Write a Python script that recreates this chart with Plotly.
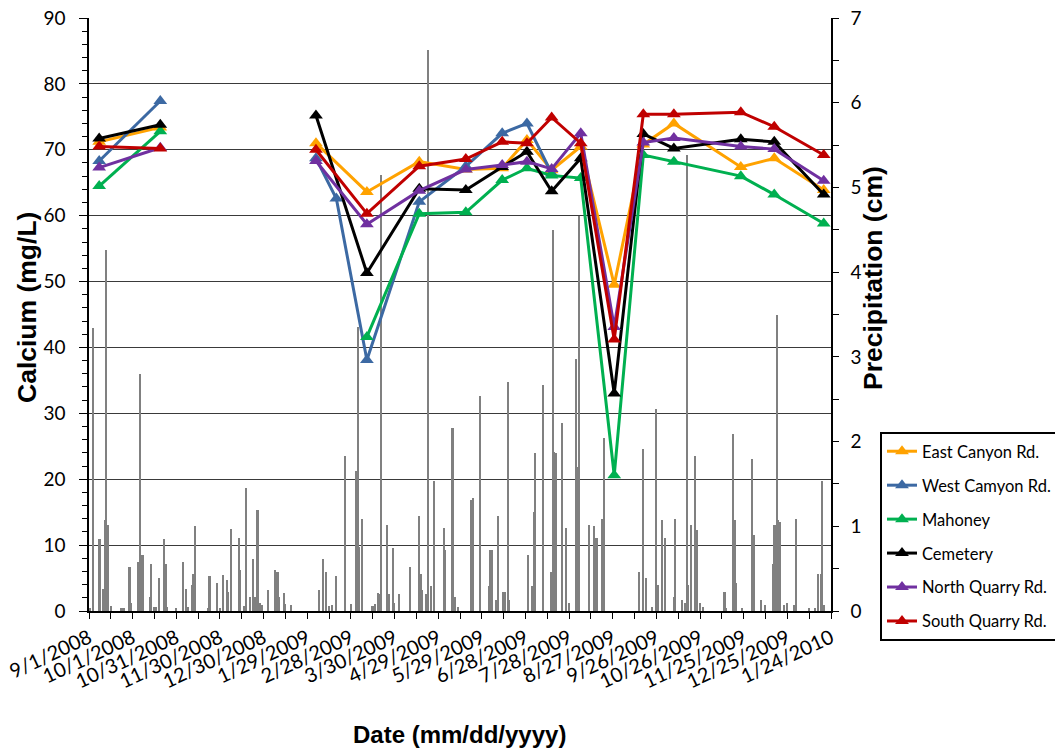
import pandas as pd
import plotly.graph_objects as go

# ---- Calcium sampling (mg/L) ----
sample_dates = [
    "2008-09-08", "2008-10-20", "2009-02-04", "2009-03-11", "2009-04-16",
    "2009-05-18", "2009-06-12", "2009-06-29", "2009-07-16", "2009-08-05",
    "2009-08-28", "2009-09-17", "2009-10-08", "2009-11-23", "2009-12-16",
    "2010-01-19",
]
east_canyon = [71.2, 73.4, 71.0, 63.6, 68.2, 67.0, 67.2, 71.5, 66.9, 70.5,
               49.5, 70.8, 74.0, 67.4, 68.7, 63.9]
west_canyon = [68.3, 77.4, 68.7, 38.1, 62.1, 67.5, 72.5, 74.0, 66.4, None,
               None, None, None, None, None, None]
west_canyon_extra_date = "2009-02-18"
west_canyon_extra_value = 62.6
mahoney = [64.5, 72.8, None, 41.6, 60.3, 60.5, 65.4, 67.2, 66.1, 65.7,
           20.6, 69.2, 68.2, 66.0, 63.2, 58.8]
cemetery = [71.7, 73.8, 75.2, 51.3, 64.1, 63.9, 67.4, 69.7, 63.7, 68.7,
            33.0, 72.4, 70.2, 71.6, 71.2, 63.2]
north_quarry = [67.3, 70.3, 68.3, 58.7, 63.8, 67.0, 67.7, 68.2, 67.1, 72.5,
                43.1, 71.1, 71.8, 70.5, 70.1, 65.3]
south_quarry = [70.5, 70.2, 70.0, 60.3, 67.5, 68.6, 71.2, 71.0, 74.9, 71.0,
                41.2, 75.4, 75.4, 75.7, 73.5, 69.2]

# ---- Daily precipitation (cm) ----
precip_dates = [
    "2008-09-02", "2008-09-04", "2008-09-08", "2008-09-09", "2008-09-11",
    "2008-09-12", "2008-09-13", "2008-09-14", "2008-09-16", "2008-09-23",
    "2008-09-24", "2008-09-25", "2008-09-29", "2008-09-30", "2008-10-05",
    "2008-10-06", "2008-10-07", "2008-10-08", "2008-10-13", "2008-10-14",
    "2008-10-16", "2008-10-17", "2008-10-19", "2008-10-23", "2008-10-24",
    "2008-10-25", "2008-10-31", "2008-11-05", "2008-11-07", "2008-11-08",
    "2008-11-11", "2008-11-12", "2008-11-13", "2008-11-22", "2008-11-23",
    "2008-11-28", "2008-11-30", "2008-12-02", "2008-12-05", "2008-12-06",
    "2008-12-08", "2008-12-13", "2008-12-14", "2008-12-17", "2008-12-18",
    "2008-12-21", "2008-12-23", "2008-12-24", "2008-12-26", "2008-12-28",
    "2008-12-29", "2009-01-02", "2009-01-07", "2009-01-08", "2009-01-09",
    "2009-01-10", "2009-01-13", "2009-01-14", "2009-01-18", "2009-02-06",
    "2009-02-09", "2009-02-11", "2009-02-13", "2009-02-15", "2009-02-18",
    "2009-02-24", "2009-02-28", "2009-03-04", "2009-03-05", "2009-03-06",
    "2009-03-08", "2009-03-15", "2009-03-17", "2009-03-19", "2009-03-20",
    "2009-03-21", "2009-03-25", "2009-03-26", "2009-03-29", "2009-03-30",
    "2009-04-02", "2009-04-10", "2009-04-16", "2009-04-17", "2009-04-18",
    "2009-04-21", "2009-04-22", "2009-04-24", "2009-04-26", "2009-05-03",
    "2009-05-04", "2009-05-09", "2009-05-11", "2009-05-13", "2009-05-22",
    "2009-05-23", "2009-05-28", "2009-06-03", "2009-06-04", "2009-06-05",
    "2009-06-08", "2009-06-09", "2009-06-13", "2009-06-14", "2009-06-16",
    "2009-06-17", "2009-06-30", "2009-07-03", "2009-07-04", "2009-07-05",
    "2009-07-10", "2009-07-16", "2009-07-17", "2009-07-18", "2009-07-19",
    "2009-07-23", "2009-07-26", "2009-07-28", "2009-08-02", "2009-08-03",
    "2009-08-04", "2009-08-11", "2009-08-14", "2009-08-16", "2009-08-20",
    "2009-08-21", "2009-09-14", "2009-09-17", "2009-09-19", "2009-09-23",
    "2009-09-26", "2009-09-27", "2009-09-30", "2009-10-02", "2009-10-08",
    "2009-10-09", "2009-10-14", "2009-10-16", "2009-10-17", "2009-10-18",
    "2009-10-20", "2009-10-23", "2009-10-24", "2009-10-26", "2009-10-28",
    "2009-11-12", "2009-11-13", "2009-11-18", "2009-11-19", "2009-11-20",
    "2009-11-24", "2009-12-01", "2009-12-02", "2009-12-07", "2009-12-10",
    "2009-12-15", "2009-12-16", "2009-12-17", "2009-12-18", "2009-12-19",
    "2009-12-20", "2009-12-23", "2009-12-25", "2009-12-30", "2009-12-31",
    "2010-01-09", "2010-01-13", "2010-01-15", "2010-01-17", "2010-01-18",
    "2010-01-19",
]
precip_cm = [
    0.03, 3.34, 0.85, 0.85, 0.26,
    1.07, 4.26, 1.02, 0.06, 0.03,
    0.04, 0.03, 0.52, 0.09, 0.58,
    2.80, 0.66, 0.66, 0.16, 0.56,
    0.05, 0.05, 0.39, 0.85, 0.56,
    0.05, 0.03, 0.58, 0.26, 0.05,
    0.31, 0.44, 1.00, 0.03, 0.41,
    0.33, 0.04, 0.42, 0.37, 0.22,
    0.97, 0.86, 0.48, 0.06, 1.45,
    0.16, 0.61, 0.16, 1.19, 0.09,
    0.07, 0.25, 0.48, 0.46, 0.46,
    0.16, 0.21, 0.08, 0.07, 0.25,
    0.61, 0.46, 0.06, 0.07, 0.41,
    1.83, 0.08, 1.65, 3.35, 0.76,
    1.09, 0.06, 0.08, 0.21, 0.20,
    5.15, 1.02, 0.20, 0.74, 0.10,
    0.20, 0.52, 1.12, 0.44, 0.25,
    0.20, 6.62, 0.29, 1.53, 0.98,
    0.72, 2.16, 0.17, 0.05, 1.31,
    1.33, 2.54, 0.29, 0.72, 0.72,
    0.13, 1.12, 0.23, 0.23, 2.70,
    0.13, 0.66, 0.29, 1.17, 1.86,
    2.67, 0.46, 4.50, 1.88, 1.86,
    2.22, 0.98, 0.09, 2.97, 1.70,
    4.66, 1.02, 1.00, 0.86, 1.09,
    2.04, 0.46, 1.91, 0.39, 0.05,
    2.39, 0.31, 1.07, 0.86, 0.17,
    1.09, 0.13, 0.09, 5.38, 0.31,
    1.02, 1.83, 0.96, 0.09, 0.05,
    0.23, 0.03, 2.09, 1.07, 0.33,
    0.03, 1.79, 0.90, 0.13, 0.07,
    0.56, 1.02, 1.02, 3.50, 1.07,
    1.05, 0.07, 0.09, 0.07, 1.09,
    0.03, 0.03, 0.44, 0.44, 1.53,
    0.07,
]

# ---- Date axis labels ----
tick_dates = [
    "2008-09-01", "2008-10-01", "2008-10-31", "2008-11-30", "2008-12-30",
    "2009-01-29", "2009-02-28", "2009-03-30", "2009-04-29", "2009-05-29",
    "2009-06-28", "2009-07-28", "2009-08-27", "2009-09-26", "2009-10-26",
    "2009-11-25", "2009-12-25", "2010-01-24",
]
tick_labels = [
    "9/1/2008", "10/1/2008", "10/31/2008", "11/30/2008", "12/30/2008",
    "1/29/2009", "2/28/2009", "3/30/2009", "4/29/2009", "5/29/2009",
    "6/28/2009", "7/28/2009", "8/27/2009", "9/26/2009", "10/26/2009",
    "11/25/2009", "12/25/2009", "1/24/2010",
]

series = [
    ("East Canyon Rd.", east_canyon, "#FFA200"),
    ("West Camyon Rd.", west_canyon, "#3C69A3"),
    ("Mahoney", mahoney, "#00B050"),
    ("Cemetery", cemetery, "#000000"),
    ("North Quarry Rd.", north_quarry, "#7030A0"),
    ("South Quarry Rd.", south_quarry, "#C00000"),
]


def build_line(dates, values, extra=None, max_gap_days=60):
    """Pair dates with values, drop missing samples and break the line
    across long gaps in the sampling record."""
    pts = [(pd.Timestamp(d), v) for d, v in zip(dates, values) if v is not None]
    if extra is not None:
        pts.append((pd.Timestamp(extra[0]), extra[1]))
    pts.sort(key=lambda p: p[0])
    xs, ys = [], []
    prev = None
    for d, v in pts:
        if prev is not None and (d - prev).days > max_gap_days:
            xs.append(None)
            ys.append(None)
        xs.append(d)
        ys.append(v)
        prev = d
    return xs, ys


TICK_FONT = dict(family="Lato, Open Sans, sans-serif", size=19, color="#000000")
XTICK_FONT = dict(family="Lato, Open Sans, sans-serif", size=20, color="#000000")
TITLE_FONT = dict(family="Liberation Sans, Arial, sans-serif", size=24, color="#000000")
VTITLE_FONT = dict(family="Liberation Sans, Arial, sans-serif", size=26.5, color="#000000")

fig = go.Figure()

# Precipitation bars on the right-hand scale (drawn first, beneath the lines)
fig.add_trace(go.Bar(
    x=pd.to_datetime(precip_dates), y=precip_cm,
    width=86400000 * 1.1,
    marker=dict(color="#808080", line=dict(width=0)),
    showlegend=False, yaxis="y", xaxis="x",
    hoverinfo="x+y",
))

for name, vals, color in series:
    extra = (west_canyon_extra_date, west_canyon_extra_value) if name.startswith("West") else None
    xs, ys = build_line(sample_dates, vals, extra)
    fig.add_trace(go.Scatter(
        x=xs, y=ys, name=name, mode="lines+markers",
        line=dict(color=color, width=3),
        marker=dict(symbol="triangle-up", size=12, color=color),
        connectgaps=False, yaxis="y2", xaxis="x",
        legendgroup=name,
    ))

minor_ticks = pd.date_range("2008-09-01", "2010-01-24", freq="15D")

fig.update_layout(
    width=1055, height=751,
    margin=dict(l=89, r=224, t=18, b=140, autoexpand=False),
    paper_bgcolor="white", plot_bgcolor="white",
    bargap=0,
    xaxis=dict(
        type="date",
        range=["2008-09-01", "2010-01-24"],
        tickvals=pd.to_datetime(tick_dates), ticktext=tick_labels,
        tickangle=-25, tickfont=XTICK_FONT,
        ticks="outside", ticklen=6, tickcolor="#000000", tickwidth=1,
        minor=dict(tickvals=minor_ticks, ticks="outside", ticklen=6,
                   tickcolor="#000000", tickwidth=1),
        showline=True, linecolor="#000000", linewidth=1.5,
        showgrid=False, zeroline=False,
    ),
    yaxis=dict(
        range=[0, 7], dtick=1, side="right",
        tickfont=TICK_FONT, ticks="outside", ticklen=6, tickcolor="#000000",
        minor=dict(dtick=0.5, ticks="outside", ticklen=6, tickcolor="#000000"),
        showline=True, linecolor="#000000", linewidth=1.5,
        showgrid=False, zeroline=False, ticklabelstandoff=8,
    ),
    yaxis2=dict(
        range=[0, 90], dtick=10, side="left", overlaying="y",
        tickfont=TICK_FONT, ticks="outside", ticklen=8, tickcolor="#000000",
        minor=dict(dtick=2, ticks="outside", ticklen=5, tickcolor="#000000"),
        showline=True, linecolor="#000000", linewidth=1.5,
        showgrid=True, gridcolor="#3a3a3a", gridwidth=1,
        zeroline=False, ticklabelstandoff=10,
    ),
    legend=dict(
        x=(880 - 89) / 742, y=(611 - 432) / 593,
        xanchor="left", yanchor="top",
        bordercolor="#000000", borderwidth=2, bgcolor="white",
        font=dict(family="Lato, Open Sans, sans-serif", size=16.5, color="#000000"),
        traceorder="grouped", tracegroupgap=9.5,
    ),
    annotations=[
        dict(text="<b>Calcium (mg/L)</b>", xref="paper", yref="paper",
             x=(27 - 89) / 742, y=(611 - 308) / 593, textangle=-90,
             showarrow=False, xanchor="center", yanchor="middle", font=VTITLE_FONT),
        dict(text="<b>Precipitation (cm)</b>", xref="paper", yref="paper",
             x=(873 - 89) / 742, y=(611 - 278) / 593, textangle=-90,
             showarrow=False, xanchor="center", yanchor="middle", font=VTITLE_FONT),
        dict(text="<b>Date (mm/dd/yyyy)</b>", xref="paper", yref="paper",
             x=(459 - 89) / 742, y=(611 - 735) / 593,
             showarrow=False, xanchor="center", yanchor="middle", font=TITLE_FONT),
    ],
)

fig.write_html("out.html")
